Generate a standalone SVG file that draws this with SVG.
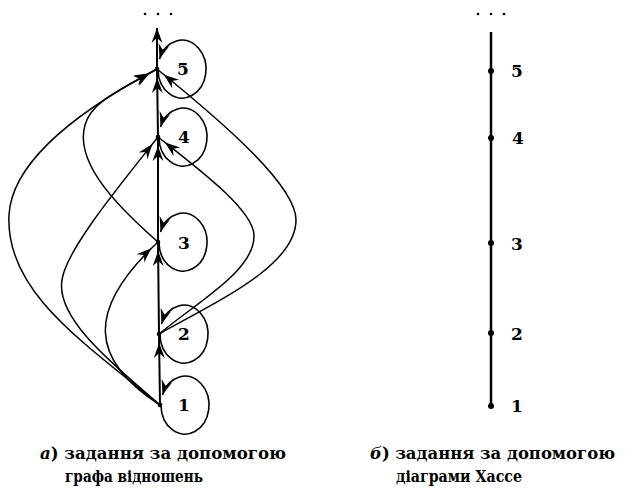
<svg xmlns="http://www.w3.org/2000/svg" width="627" height="492" viewBox="0 0 627 492">
<style>
  .e { fill: none; stroke: #000; stroke-width: 1.5; }
  .v { fill: none; stroke: #000; stroke-width: 2; }
  .lp { fill: none; stroke: #000; stroke-width: 1.6; }
  .num { font-family: "DejaVu Serif", "Liberation Serif", serif; font-size: 17px; font-weight: bold; fill: #000; text-anchor: middle; }
  .cap { font-family: "DejaVu Serif", "Liberation Serif", serif; font-size: 17px; font-weight: bold; fill: #000; }
  .dot { fill: #000; }
</style>
<defs>
  <marker id="ah" viewBox="-20 -10 30 20" markerWidth="30" markerHeight="20" refX="9" refY="0" orient="auto" markerUnits="userSpaceOnUse">
    <path d="M0,0 L-15,-5.5 L-10,0 L-15,5.5 Z" fill="#000"/>
  </marker>
  <marker id="ahTip" viewBox="-20 -10 30 20" markerWidth="30" markerHeight="20" refX="0" refY="0" orient="auto" markerUnits="userSpaceOnUse">
    <path d="M0,0 L-15,-5.5 L-10,0 L-15,5.5 Z" fill="#000"/>
  </marker>
</defs>

<!-- Left: relation graph -->
<g id="connectors">
  <!-- vertical chain -->
  <path class="v" d="M160,405 L159,334" marker-end="url(#ah)"/>
  <path class="v" d="M159,334 L158,242" marker-end="url(#ah)"/>
  <path class="v" d="M158,242 L158,137" marker-end="url(#ah)"/>
  <path class="v" d="M158,137 L157,69" marker-end="url(#ah)"/>
  <path class="v" d="M157,69 L157,28" marker-end="url(#ahTip)"/>
  <!-- left curves -->
  <path class="e" d="M160,405 C90,360 85,310 158,242" marker-end="url(#ah)"/>
  <path class="e" d="M160,405 C120,370 55,320 62,280 C66,250 120,185 158,137" marker-end="url(#ah)"/>
  <path class="e" d="M160,405 C80,340 5,290 9,215 C12,160 80,110 157,69" marker-end="url(#ah)"/>
  <path class="e" d="M158,242 C110,200 75,160 85,125 C92,100 125,88 157,69" marker-end="url(#ah)"/>
  <!-- right curves -->
  <path class="e" d="M159,334 C200,300 255,270 254,235 C253,210 200,170 158,137" marker-end="url(#ah)"/>
  <path class="e" d="M159,334 C220,300 296,265 296,220 C296,185 220,120 157,69" marker-end="url(#ah)"/>
  <!-- loops -->
  <path class="lp" d="M158,70 A24,29 0 1,0 159.5,59" marker-end="url(#ahTip)"/>
  <path class="lp" d="M159,138 A24,29 0 1,0 160.5,127" marker-end="url(#ahTip)"/>
  <path class="lp" d="M159,243 A24,29 0 1,0 160.5,232" marker-end="url(#ahTip)"/>
  <path class="lp" d="M160,335 A24,29 0 1,0 161.5,324" marker-end="url(#ahTip)"/>
  <path class="lp" d="M161,406 A24,29 0 1,0 162.5,395" marker-end="url(#ahTip)"/>
</g>

<g id="dots-left">
  <circle class="dot" cx="145" cy="14" r="1.3"/>
  <circle class="dot" cx="158" cy="14" r="1.3"/>
  <circle class="dot" cx="171" cy="14" r="1.3"/>
</g>

<g id="n5"><circle class="dot" cx="157" cy="69" r="2.3"/><text class="num" x="183" y="75">5</text></g>
<g id="n4"><circle class="dot" cx="158" cy="137" r="2.3"/><text class="num" x="184" y="143">4</text></g>
<g id="n3"><circle class="dot" cx="158" cy="242" r="2.3"/><text class="num" x="184" y="249">3</text></g>
<g id="n2"><circle class="dot" cx="159" cy="334" r="2.3"/><text class="num" x="184" y="340">2</text></g>
<g id="n1"><circle class="dot" cx="160" cy="405" r="2.3"/><text class="num" x="184" y="411">1</text></g>

<!-- Right: Hasse diagram -->
<g id="hasse-line">
  <line x1="491" y1="32" x2="491" y2="406" stroke="#000" stroke-width="2.5"/>
</g>
<g id="dots-right">
  <circle class="dot" cx="478" cy="14" r="1.3"/>
  <circle class="dot" cx="491" cy="14" r="1.3"/>
  <circle class="dot" cx="504" cy="14" r="1.3"/>
</g>
<g id="h5"><circle class="dot" cx="491" cy="71" r="3"/><text class="num" x="517" y="77">5</text></g>
<g id="h4"><circle class="dot" cx="491" cy="138" r="3"/><text class="num" x="518" y="144">4</text></g>
<g id="h3"><circle class="dot" cx="491" cy="243" r="3"/><text class="num" x="517" y="250">3</text></g>
<g id="h2"><circle class="dot" cx="491" cy="333" r="3"/><text class="num" x="517" y="340">2</text></g>
<g id="h1"><circle class="dot" cx="491" cy="406" r="3"/><text class="num" x="517" y="412">1</text></g>

<!-- Captions -->
<g id="caption-a">
  <text class="cap" x="40" y="459" textLength="246" lengthAdjust="spacingAndGlyphs"><tspan font-style="italic">а</tspan>) задання за допомогою</text>
  <text class="cap" x="65" y="482" textLength="138" lengthAdjust="spacingAndGlyphs">графа відношень</text>
</g>
<g id="caption-b">
  <text class="cap" x="370" y="459" textLength="245" lengthAdjust="spacingAndGlyphs"><tspan font-style="italic">б</tspan>) задання за допомогою</text>
  <text class="cap" x="396" y="482" textLength="126" lengthAdjust="spacingAndGlyphs">діаграми Хассе</text>
</g>
</svg>
